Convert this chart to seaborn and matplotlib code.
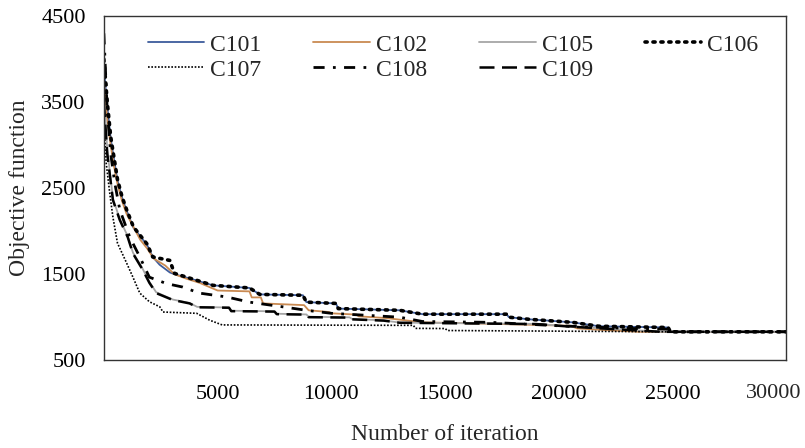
import matplotlib
matplotlib.use("Agg")
import matplotlib.pyplot as plt
import seaborn as sns

# convergence curves (iteration, objective value)
c101_it = [0, 150, 300, 450, 600, 800, 1000, 1300, 1600, 1900, 2150, 2450, 2900, 3100, 3640, 4800, 6400, 6850,
           8750, 8900, 10200, 10300, 13000, 14000, 17700, 17800, 18700, 20600, 21750, 24800, 24900, 30000]
c101_val = [3900, 3450, 3080, 2830, 2590, 2390, 2240, 2040, 1940, 1840, 1700, 1610, 1520, 1500, 1460, 1370, 1340, 1265,
            1255, 1175, 1160, 1100, 1080, 1035, 1035, 1000, 975, 940, 895, 880, 830, 830]

c102_it = [0, 150, 300, 450, 600, 800, 1000, 1300, 1600, 1900, 2200, 2700, 3100, 3600, 4200, 5000, 6400, 6500,
           6900, 7000, 8800, 9000, 9900, 10000, 11100, 11200, 12400, 14000, 15800, 17500, 20500, 20800, 22000,
           23500, 30000]
c102_val = [3750, 3300, 3000, 2750, 2550, 2350, 2200, 2050, 1900, 1800, 1680, 1600, 1500, 1450, 1400, 1310, 1300, 1230,
            1230, 1160, 1140, 1080, 1060, 1045, 1030, 1010, 990, 940, 930, 920, 900, 870, 850,
            830, 830]

c105_it = [0, 150, 400, 700, 1050, 1280, 1710, 2000, 2300, 3030, 3770, 4100, 5500, 5600, 7500, 7600, 8900, 9000,
           10800, 10900, 12300, 13000, 19000, 20500, 22500, 24500, 30000]
c105_val = [3600, 2950, 2380, 2140, 1940, 1750, 1560, 1410, 1290, 1205, 1165, 1120, 1112, 1075, 1068, 1040, 1032, 1005,
            998, 980, 962, 937, 922, 892, 862, 830, 830]

c106_it = [0, 150, 300, 450, 600, 800, 1000, 1300, 1600, 1900, 2150, 2900, 3100, 3640, 4800, 6400, 6850,
           8750, 8900, 10200, 10300, 13000, 14000, 17700, 17800, 18700, 20600, 21750, 24800, 24900, 30000]
c106_val = [4000, 3500, 3100, 2850, 2600, 2400, 2250, 2050, 1950, 1850, 1700, 1660, 1510, 1465, 1370, 1340, 1265,
            1255, 1175, 1160, 1100, 1080, 1035, 1035, 1000, 975, 940, 895, 880, 830, 830]

c107_it = [0, 100, 260, 400, 600, 1000, 1270, 1580, 2000, 2460, 2600, 4080, 4650, 5200, 13600, 13700, 15000, 15100,
           25000, 30000]
c107_val = [3300, 2800, 2440, 2160, 1860, 1630, 1470, 1280, 1180, 1120, 1060, 1045, 965, 910, 905, 870, 868, 845,
            830, 830]

c108_it = [0, 150, 300, 480, 700, 1140, 1580, 2000, 2760, 3470, 4200, 5400, 6400, 8000, 8900, 10000, 13000, 14000,
           17000, 20000, 23000, 24800, 24900, 30000]
c108_val = [4300, 3400, 2900, 2560, 2250, 1930, 1700, 1465, 1390, 1350, 1280, 1235, 1175, 1115, 1080, 1045, 1000, 950,
            940, 900, 870, 860, 830, 830]

c109_it = [0, 150, 400, 700, 1050, 1280, 1710, 2000, 2300, 3030, 3770, 4100, 5500, 5600, 7500, 7600, 8900, 9000,
           10800, 10900, 12300, 13000, 19000, 20500, 22500, 24500, 30000]
c109_val = [3500, 2900, 2360, 2130, 1930, 1740, 1550, 1400, 1280, 1200, 1160, 1115, 1110, 1070, 1065, 1035, 1030, 1000,
            995, 975, 960, 935, 920, 890, 860, 830, 830]

x_ticks = [0, 5000, 10000, 15000, 20000, 25000, 30000]
x_labels = ["", "5000", "10000", "15000", "20000", "25000", ""]
last_x_label = "30000"
y_ticks = [500, 1500, 2500, 3500, 4500]

sns.set_style("white")
plt.rcParams["font.family"] = ["Liberation Serif", "DejaVu Serif"]

fig = plt.figure(figsize=(8.05, 4.48), dpi=100)
ax = fig.add_axes([0.129, 0.196, 0.848, 0.768])

series = [
    ("C101", c101_it, c101_val, dict(color="#3D5C9C", lw=1.3, ls="-")),
    ("C102", c102_it, c102_val, dict(color="#C98A52", lw=1.3, ls="-")),
    ("C105", c105_it, c105_val, dict(color="#A6A6A6", lw=1.3, ls="-")),
    ("C106", c106_it, c106_val, dict(color="black", lw=2.6, ls=(0, (0.6, 1.6)), dash_capstyle="round")),
    ("C107", c107_it, c107_val, dict(color="black", lw=1.2, ls=(0, (1, 1)))),
    ("C108", c108_it, c108_val, dict(color="black", lw=2.0, ls=(0, (4, 3, 1, 3)))),
    ("C109", c109_it, c109_val, dict(color="black", lw=1.8, ls=(0, (6, 3)))),
]

for name, its, vals, style in series:
    sns.lineplot(x=its, y=vals, ax=ax, label=name, estimator=None, sort=False, **style)

ax.set_xlim(0, 30000)
ax.set_ylim(500, 4500)
ax.set_xticks(x_ticks)
ax.set_xticklabels(x_labels)
ax.set_yticks(y_ticks)
ax.tick_params(axis="both", direction="inout", length=8, width=1, colors="black", labelsize=16)
ax.tick_params(axis="x", pad=14)
ax.tick_params(axis="y", pad=9)
for s in ax.spines.values():
    s.set_visible(True)
    s.set_color("#333333")
    s.set_linewidth(1.0)

# last x label sits left of the frame edge, as in the reference
ax.annotate(last_x_label, xy=(1, 0), xycoords="axes fraction", xytext=(11, -17.5),
            textcoords="offset points", ha="right", va="top", fontsize=16)

ax.set_xlabel("Number of iteration", fontsize=17, labelpad=14)
ax.set_ylabel("Objective function", fontsize=17, labelpad=8)

# row-wise legend order: C101 C102 C105 C106 / C107 C108 C109
handles, labels = ax.get_legend_handles_labels()
order = [0, 4, 1, 5, 2, 6, 3]
ax.legend([handles[i] for i in order], [labels[i] for i in order],
          ncol=4, frameon=False, loc="upper left", bbox_to_anchor=(0.064, 0.948),
          fontsize=17, handlelength=2.4, handletextpad=0.25, columnspacing=2.2,
          labelspacing=0.15, borderpad=0, borderaxespad=0)

fig.savefig("out.png", dpi=100)
